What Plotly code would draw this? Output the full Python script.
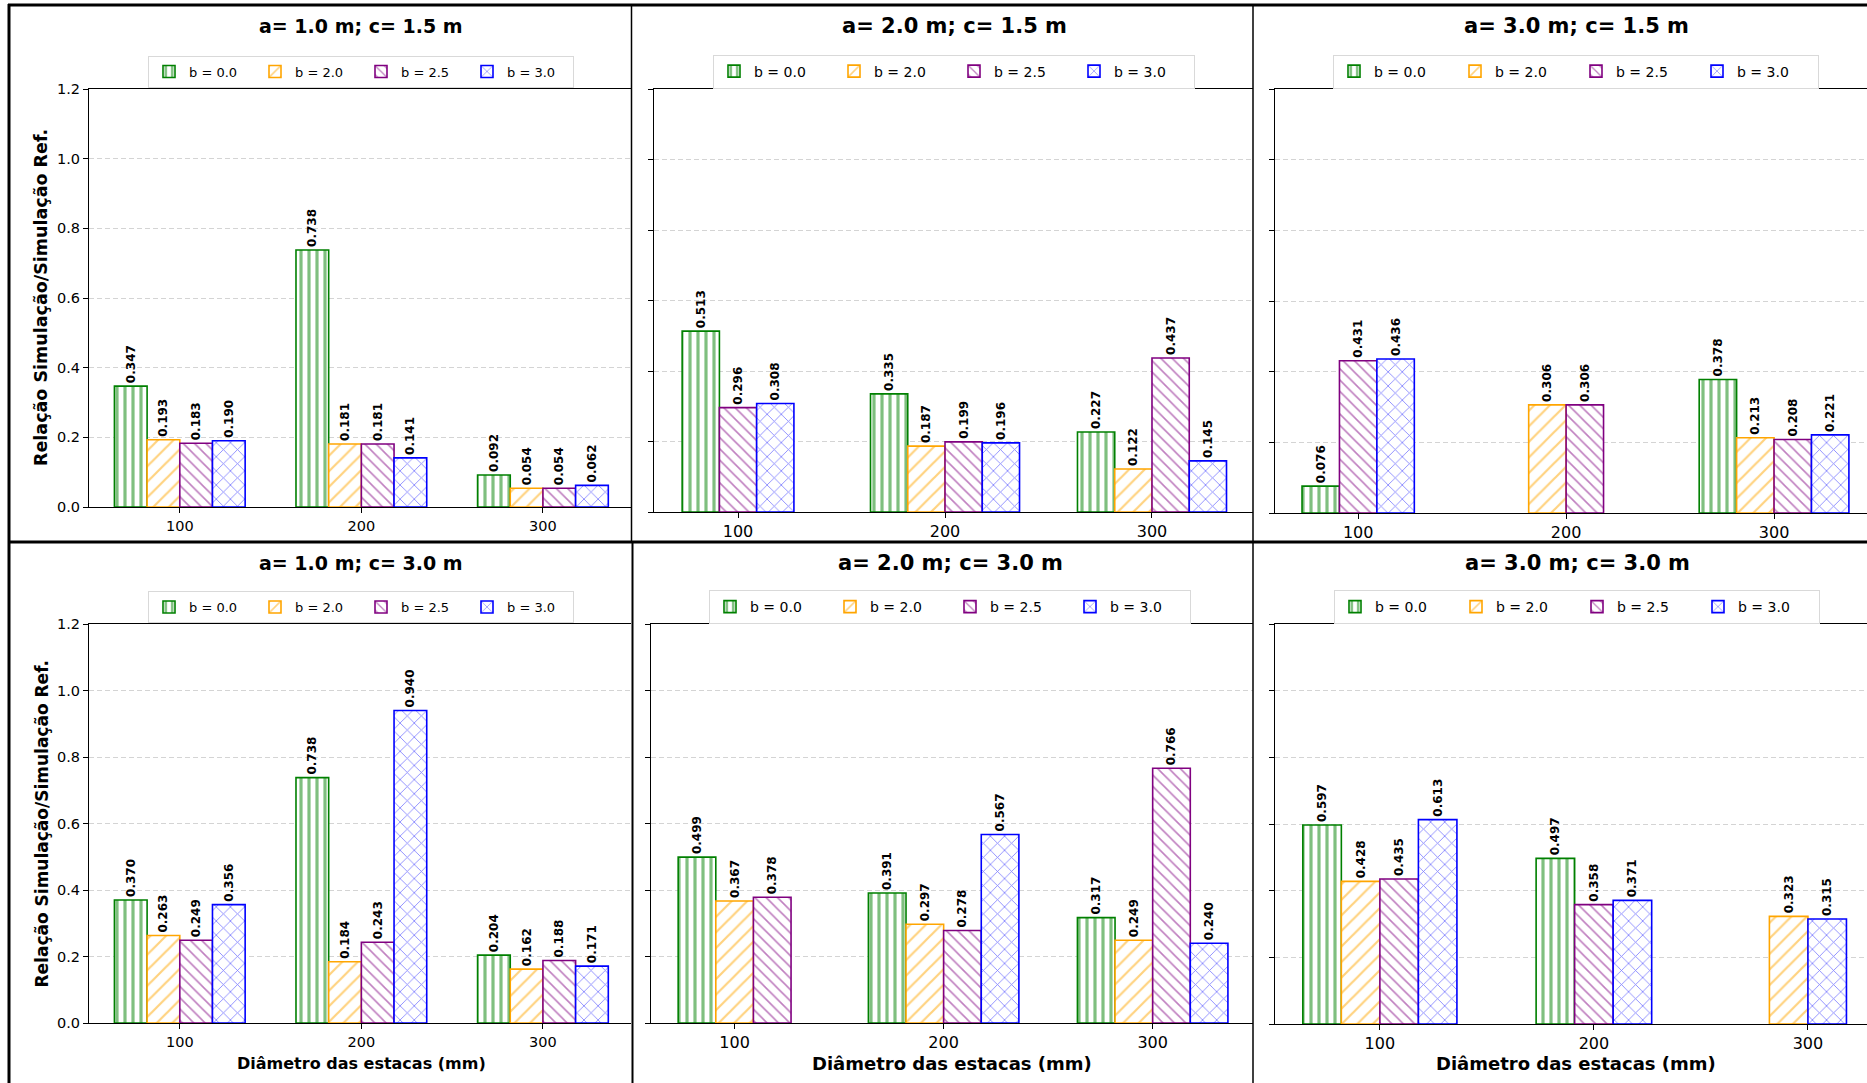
import plotly.graph_objects as go

# ---------------- data ----------------
diametros = ["100", "200", "300"]
series_labels = ["b = 0.0", "b = 2.0", "b = 2.5", "b = 3.0"]
titles = ["a= 1.0 m; c= 1.5 m", "a= 2.0 m; c= 1.5 m", "a= 3.0 m; c= 1.5 m",
          "a= 1.0 m; c= 3.0 m", "a= 2.0 m; c= 3.0 m", "a= 3.0 m; c= 3.0 m"]
y_ticks = [0.0, 0.2, 0.4, 0.6, 0.8, 1.0, 1.2]
x_title = "Diâmetro das estacas (mm)"
y_title = "Relação Simulação/Simulação Ref."

# values per diameter (100, 200, 300); None = bar not present
a1c15_b00 = [0.347, 0.738, 0.092]
a1c15_b20 = [0.193, 0.181, 0.054]
a1c15_b25 = [0.183, 0.181, 0.054]
a1c15_b30 = [0.190, 0.141, 0.062]

a2c15_b00 = [0.513, 0.335, 0.227]
a2c15_b20 = [None, 0.187, 0.122]
a2c15_b25 = [0.296, 0.199, 0.437]
a2c15_b30 = [0.308, 0.196, 0.145]

a3c15_b00 = [0.076, None, 0.378]
a3c15_b20 = [None, 0.306, 0.213]
a3c15_b25 = [0.431, 0.306, 0.208]
a3c15_b30 = [0.436, None, 0.221]

a1c30_b00 = [0.370, 0.738, 0.204]
a1c30_b20 = [0.263, 0.184, 0.162]
a1c30_b25 = [0.249, 0.243, 0.188]
a1c30_b30 = [0.356, 0.940, 0.171]

a2c30_b00 = [0.499, 0.391, 0.317]
a2c30_b20 = [0.367, 0.297, 0.249]
a2c30_b25 = [0.378, 0.278, 0.766]
a2c30_b30 = [None, 0.567, 0.240]

a3c30_b00 = [0.597, 0.497, None]
a3c30_b20 = [0.428, None, 0.323]
a3c30_b25 = [0.435, 0.358, None]
a3c30_b30 = [0.613, 0.371, 0.315]

panels = [
    [a1c15_b00, a1c15_b20, a1c15_b25, a1c15_b30],
    [a2c15_b00, a2c15_b20, a2c15_b25, a2c15_b30],
    [a3c15_b00, a3c15_b20, a3c15_b25, a3c15_b30],
    [a1c30_b00, a1c30_b20, a1c30_b25, a1c30_b30],
    [a2c30_b00, a2c30_b20, a2c30_b25, a2c30_b30],
    [a3c30_b00, a3c30_b20, a3c30_b25, a3c30_b30],
]

# ---------------- styling / layout ----------------
W, H = 1867, 1083
FONT = "DejaVu Sans"
BAR_W = 0.18
colors = ["#008000", "#FFA500", "#800080", "#0000FF"]
shapes_p = ["|", "/", "\\", "x"]
psizes = [8, 11, 8, 10]
psolid = [0.4, 0.2, 0.2, 0.16]

# pixel boxes of each axes: (left, right, top, bottom)
boxes = [(89, 631, 89, 507), (654, 1253, 89, 512), (1275, 1867, 89, 513),
         (89, 631, 624, 1023), (651, 1253, 624, 1023), (1275, 1867, 624, 1024)]
xranges = [[-0.5, 2.485], [-0.406, 2.488], [-0.40, 2.447],
           [-0.5, 2.485], [-0.40, 2.48], [-0.49, 2.276]]
title_x = [361, 954, 1576, 361, 950, 1577]
title_y = [26, 26, 26, 563, 563, 563]
legend_y = [71.5, 71.5, 71.5, 607, 607, 607]
title_size = [19, 21, 21, 19, 21, 21]
tick_size = [14.5, 16, 16, 14.5, 16, 16]
leg_size = [13, 14, 14, 13, 14, 14]
leg_entry = [61, 75, 76, 61, 75, 76]

fig = go.Figure()
annotations = []
layout = {}

for p, vals in enumerate(panels):
    ax = "" if p == 0 else str(p + 1)
    xa, ya = "x" + ax, "y" + ax
    lg = "legend" + ax
    # positions: bars present in a group are centred on the tick
    xs = {s: [] for s in range(4)}
    ys = {s: [] for s in range(4)}
    for g in range(len(diametros)):
        present = [s for s in range(4) if vals[s][g] is not None]
        n = len(present)
        for k, s in enumerate(present):
            xs[s].append(g + (k - (n - 1) / 2) * BAR_W)
            ys[s].append(vals[s][g])
    for s in range(4):
        fig.add_trace(go.Bar(
            x=xs[s], y=ys[s], width=BAR_W, name=series_labels[s],
            xaxis=xa, yaxis=ya, legend=lg,
            marker=dict(color=colors[s],
                        line=dict(color=colors[s], width=1.6),
                        pattern=dict(shape=shapes_p[s], fgcolor=colors[s], fgopacity=0.5,
                                     bgcolor="white", size=psizes[s], solidity=psolid[s],
                                     fillmode="replace")),
            texttemplate="%{y:.3f}", textposition="outside", textangle=-90,
            constraintext="none", cliponaxis=False,
            textfont=dict(family=FONT, size=12, color="black", weight="bold"),
        ))
    l, r, t, b = boxes[p]
    layout["xaxis" + ax] = dict(
        domain=[l / W, r / W], anchor=ya, range=xranges[p], automargin=False,
        tickmode="array", tickvals=list(range(len(diametros))), ticktext=diametros,
        ticks="outside", ticklen=5, tickcolor="black", showgrid=False, zeroline=False,
        showline=True, linecolor="black", linewidth=1.2, mirror=True,
        tickfont=dict(family=FONT, size=tick_size[p], color="black"),
    )
    layout["yaxis" + ax] = dict(
        domain=[1 - b / H, 1 - t / H], anchor=xa, range=[0, 1.2], automargin=False,
        tickmode="array", tickvals=y_ticks, ticktext=[f"{v:.1f}" for v in y_ticks],
        showticklabels=(p in (0, 3)),
        ticks="outside", ticklen=5, tickcolor="black", zeroline=False,
        showline=True, linecolor="black", linewidth=1.2,
        showgrid=True, gridcolor="#d4d4d4", griddash="5px,3px", gridwidth=1,
        tickfont=dict(family=FONT, size=tick_size[p], color="black"),
    )
    layout[lg] = dict(
        orientation="h", x=title_x[p] / W, xanchor="center",
        y=1 - legend_y[p] / H, yanchor="middle",
        bgcolor="white", bordercolor="#d9d9d9", borderwidth=1,
        font=dict(family=FONT, size=leg_size[p], color="black"),
        entrywidth=leg_entry[p], entrywidthmode="pixels", itemclick=False,
    )
    annotations.append(dict(
        text="<b>" + titles[p] + "</b>", x=title_x[p] / W, y=1 - title_y[p] / H,
        xref="paper", yref="paper", showarrow=False, xanchor="center", yanchor="middle",
        font=dict(family=FONT, size=title_size[p], color="black")))

# axis titles
for cy, fs in [((89 + 507) / 2, 17.5), ((624 + 1023) / 2, 17)]:
    annotations.append(dict(
        text="<b>" + y_title + "</b>", x=41 / W, y=1 - cy / H, xref="paper", yref="paper",
        showarrow=False, textangle=-90, xanchor="center", yanchor="middle",
        font=dict(family=FONT, size=fs, color="black")))
for cx, fs in [(361, 16), (952, 18), (1576, 18)]:
    annotations.append(dict(
        text="<b>" + x_title + "</b>", x=cx / W, y=1 - 1063 / H, xref="paper", yref="paper",
        showarrow=False, xanchor="center", yanchor="middle",
        font=dict(family=FONT, size=fs, color="black")))

# borders of the pasted figures
def hline(y, x0, x1, w):
    return dict(type="line", xref="paper", yref="paper", x0=x0 / W, x1=x1 / W,
                y0=1 - y / H, y1=1 - y / H, line=dict(color="black", width=w), layer="above")

def vline(x, y0, y1, w):
    return dict(type="line", xref="paper", yref="paper", x0=x / W, x1=x / W,
                y0=1 - y0 / H, y1=1 - y1 / H, line=dict(color="black", width=w), layer="above")

shapes = [hline(5, 8, W, 3), vline(9, 4, H, 3), hline(542, 8, W, 3),
          vline(631.5, 5, 542, 1.5), vline(632.5, 542, H, 2),
          vline(1253, 5, H, 1.5)]

fig.update_layout(
    width=W, height=H, margin=dict(l=0, r=0, t=0, b=0, pad=0, autoexpand=False),
    paper_bgcolor="white", plot_bgcolor="white",
    barmode="overlay", showlegend=True,
    annotations=annotations, shapes=shapes,
    font=dict(family=FONT, color="black"),
    **layout,
)

post = (
    "document.documentElement.style.margin='0';"
    "document.body.style.margin='0';document.body.style.padding='0';"
    "document.body.style.overflow='hidden';"
    "var gds=document.getElementsByClassName('plotly-graph-div');"
    "for(var i=0;i<gds.length;i++){gds[i].style.position='absolute';"
    "gds[i].style.top='0px';gds[i].style.left='0px';}"
)
fig.write_html("out.html", config={"displayModeBar": False}, post_script=post)
